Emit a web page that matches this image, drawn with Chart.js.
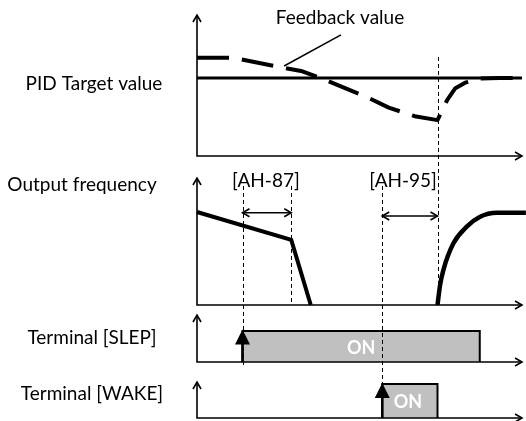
<!DOCTYPE html>
<html>
<head>
<meta charset="utf-8">
<script src="https://cdn.jsdelivr.net/npm/chart.js@4.4.1/dist/chart.umd.min.js"></script>
<style>
  html, body { margin: 0; padding: 0; background: #fff; }
  #wrap { position: relative; width: 526px; height: 421px; }
</style>
</head>
<body>
<div id="wrap"><canvas id="sleepDiagram" width="526" height="421"></canvas></div>
<script>
/* ============================================ DATA ============================================ */
// time axis runs 0..100 (arbitrary units), values per row in their own units

// PID target value and feedback value (% of full range)
const targetT = [0, 100];
const targetV = [50, 50];
const feedbackT = [0, 11, 23, 32, 38, 45, 52, 59, 67, 74, 77, 79.5, 82.5, 87, 93, 100];
const feedbackV = [63, 63, 58, 54.5, 50, 44, 38, 31, 25.5, 23, 36, 43.5, 47, 49.7, 50, 50];

// output frequency (%): deceleration into sleep, then restart after wake
const decelT = [0, 29, 35];
const decelV = [100, 70, 0];
const restartT = [74, 74.8, 75.8, 78.9, 83, 87.1, 92.2, 101.2];
const restartV = [0, 21.5, 37.6, 66.3, 84.2, 94.9, 99.2, 99.2];

// terminal signals, [on, off]
const slepOn = [14, 87];
const wakeOn = [57, 74];

// parameter windows [start, end]
const ah87 = [14, 29];
const ah95 = [57, 74];

const rowLabels = ['PID Target value', 'Output frequency', 'Terminal [SLEP]', 'Terminal [WAKE]'];

/* =========================================== LAYOUT =========================================== */
const W = 526, H = 421;
const X0 = 197, X100 = 522;          // pixel of t = 0 and t = 100
const pxPerT = (X100 - X0) / 100;
const FONT = 'Lato, "Open Sans", sans-serif';

// pixel bands of each row, base = value 0, ref = pixel of refV
const rows = {
  pid:  { top: 0,   bottom: 160, base: 156, refPx: 78,  refV: 50,  axisTop: 15 },
  freq: { top: 160, bottom: 308, base: 305, refPx: 212, refV: 100, axisTop: 178 },
  slep: { top: 308, bottom: 366, base: 362, refPx: 331, refV: 1,   axisTop: 315 },
  wake: { top: 366, bottom: 421, base: 418, refPx: 384, refV: 1,   axisTop: 382 }
};

function rowScale(r, order) {
  const k = r.refV / (r.base - r.refPx);
  return {
    type: 'linear', display: false, position: 'left',
    stack: 'rows', stackWeight: r.bottom - r.top, weight: order,
    min: -(r.bottom - r.base) * k, max: (r.base - r.top) * k
  };
}

const pts = (ts, vs) => ts.map((t, i) => ({ x: t, y: vs[i] }));
const pulse = on => [{ x: on[0], y: 0 }, { x: on[0], y: 1 }, { x: on[1], y: 1 }, { x: on[1], y: 0 }];

/* ========================================== DRAWING ========================================== */
function openHead(ctx, x, y, dx, dy, len, half) {
  const bx = x - dx * len, by = y - dy * len;
  ctx.beginPath();
  ctx.moveTo(bx - dy * half, by + dx * half);
  ctx.lineTo(x, y);
  ctx.lineTo(bx + dy * half, by - dx * half);
  ctx.stroke();
}

function filledUpArrow(ctx, x, yBase, yTip) {
  ctx.lineWidth = 2.5;
  ctx.beginPath();
  ctx.moveTo(x, yBase);
  ctx.lineTo(x, yTip + 10);
  ctx.stroke();
  ctx.beginPath();
  ctx.moveTo(x, yTip);
  ctx.lineTo(x - 7.5, yTip + 15);
  ctx.lineTo(x + 7.5, yTip + 15);
  ctx.closePath();
  ctx.fill();
}

const diagramPlugin = {
  id: 'diagram',
  afterDatasetsDraw(chart) {
    const ctx = chart.ctx;
    const sx = t => chart.scales.x.getPixelForValue(t);
    const sy = (id, v) => chart.scales[id].getPixelForValue(v);
    ctx.save();
    ctx.strokeStyle = '#000';
    ctx.fillStyle = '#000';
    ctx.lineCap = 'butt';

    // axes with arrows
    Object.keys(rows).forEach(id => {
      const x0 = sx(0), xe = sx(100), yb = sy(id, 0), yt = rows[id].axisTop;
      ctx.lineWidth = 1.6;
      ctx.beginPath();
      ctx.moveTo(x0, yt);
      ctx.lineTo(x0, yb);
      ctx.lineTo(xe, yb);
      ctx.stroke();
      openHead(ctx, x0, yt, 0, -1, 7, 4);
      openHead(ctx, xe, yb, 1, 0, 7, 4);
    });

    // dashed guide lines
    const guides = [
      { t: ah87[0], from: ['freq', 128], to: ['slep', -0.16] },
      { t: ah87[1], from: ['freq', 128], to: ['freq', 0] },
      { t: ah95[0], from: ['freq', 128], to: ['wake', 1] },
      { t: ah95[1], from: ['pid', 63.5], to: ['freq', 0] }
    ];
    ctx.lineWidth = 1;
    ctx.setLineDash([4, 3]);
    guides.forEach(g => {
      ctx.beginPath();
      ctx.moveTo(Math.round(sx(g.t)) + 0.5, sy(g.from[0], g.from[1]));
      ctx.lineTo(Math.round(sx(g.t)) + 0.5, sy(g.to[0], g.to[1]));
      ctx.stroke();
    });
    ctx.setLineDash([]);

    // parameter windows (double arrows)
    [[ah87, 99.2], [ah95, 95.7]].forEach(([win, v]) => {
      const xa = sx(win[0]), xb = sx(win[1]), yy = sy('freq', v);
      ctx.lineWidth = 1.6;
      ctx.beginPath();
      ctx.moveTo(xa, yy);
      ctx.lineTo(xb, yy);
      ctx.stroke();
      openHead(ctx, xa, yy, -1, 0, 7, 4);
      openHead(ctx, xb, yy, 1, 0, 7, 4);
    });

    // rising edge arrows of terminals
    filledUpArrow(ctx, sx(slepOn[0]), sy('slep', 0), sy('slep', 1) - 1.5);
    filledUpArrow(ctx, sx(wakeOn[0]), sy('wake', 0), sy('wake', 1) - 1);

    // leader line to the feedback curve
    ctx.lineWidth = 1.5;
    ctx.beginPath();
    ctx.moveTo(sx(44.3), sy('pid', 77.6));
    ctx.lineTo(sx(26.8), sy('pid', 57.7));
    ctx.stroke();

    // texts
    ctx.textAlign = 'center';
    ctx.textBaseline = 'alphabetic';
    ctx.font = '19px ' + FONT;
    ctx.fillText('Feedback value', sx(44), 24);
    ctx.fillText('[AH-87]', sx(21.2), 186.5);
    ctx.fillText('[AH-95]', sx(63.4), 186.5);
    ctx.fillText(rowLabels[0], 94, 89.5);
    ctx.fillText(rowLabels[1], 82, 190.5);
    ctx.fillText(rowLabels[2], 92, 343.5);
    ctx.fillText(rowLabels[3], 92, 400);

    ctx.fillStyle = '#fff';
    ctx.font = 'bold 18px ' + FONT;
    ctx.fillText('ON', sx(50.5), sy('slep', 0.5) + 7);
    ctx.fillText('ON', sx(64.9), sy('wake', 0.5) + 6.5);
    ctx.restore();
  }
};

/* =========================================== CHART =========================================== */
document.addEventListener('DOMContentLoaded', function() {
  const ctx = document.getElementById('sleepDiagram').getContext('2d');
  const lineBase = { borderColor: '#000', pointRadius: 0, fill: false, tension: 0, borderJoinStyle: 'miter' };
  const boxStyle = { fill: 'origin', backgroundColor: '#c0c0c0', borderWidth: 2 };

  new Chart(ctx, {
    type: 'line',
    data: {
      datasets: [
        { ...lineBase, label: 'PID Target value', data: pts(targetT, targetV), yAxisID: 'pid', borderWidth: 3 },
        { ...lineBase, label: 'Feedback value', data: pts(feedbackT, feedbackV), yAxisID: 'pid', borderWidth: 4, borderDash: [32, 13], borderJoinStyle: 'round' },
        { ...lineBase, label: 'Output frequency', data: pts(decelT, decelV), yAxisID: 'freq', borderWidth: 4 },
        { ...lineBase, label: 'Output frequency (restart)', data: pts(restartT, restartV), yAxisID: 'freq', borderWidth: 4.5, cubicInterpolationMode: 'monotone' },
        { ...lineBase, ...boxStyle, label: 'Terminal [SLEP]', data: pulse(slepOn), yAxisID: 'slep' },
        { ...lineBase, ...boxStyle, label: 'Terminal [WAKE]', data: pulse(wakeOn), yAxisID: 'wake' }
      ]
    },
    options: {
      responsive: false,
      animation: false,
      events: [],
      layout: { padding: 0 },
      scales: {
        x: { type: 'linear', display: false, min: -X0 / pxPerT, max: (W - X0) / pxPerT },
        pid: rowScale(rows.pid, 4),
        freq: rowScale(rows.freq, 3),
        slep: rowScale(rows.slep, 2),
        wake: rowScale(rows.wake, 1)
      },
      plugins: {
        legend: { display: false },
        tooltip: { enabled: false }
      }
    },
    plugins: [diagramPlugin]
  });
});
</script>
</body>
</html>
